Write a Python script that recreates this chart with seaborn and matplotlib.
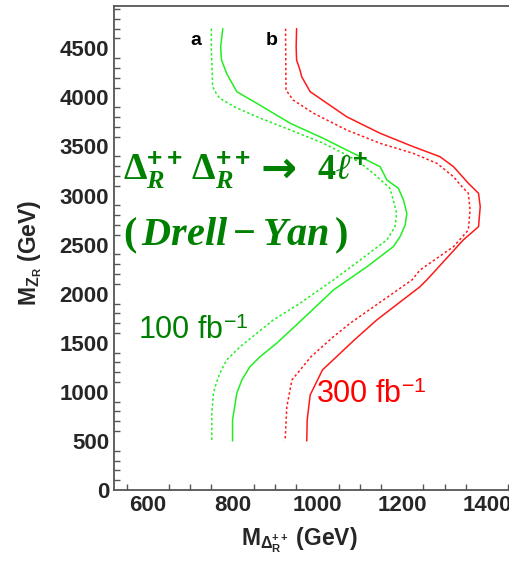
import matplotlib
matplotlib.use("Agg")
import matplotlib.pyplot as plt
import seaborn as sns
import pandas as pd
from matplotlib.ticker import MultipleLocator

# ---------------- data ----------------
# green, dotted (a, 100 fb^-1)
green_dot_x = [750, 750, 752, 753, 761, 770, 806, 857, 936, 1013, 1069, 1101, 1132, 1171,
               1179, 1187, 1183, 1164, 1132, 1101, 1038, 959, 896, 857, 818, 786, 770,
               759, 755, 751, 751]
green_dot_y = [4700, 4480, 4280, 4110, 4045, 3990, 3900, 3803, 3668, 3535, 3413, 3331, 3227, 3074,
               2955, 2819, 2683, 2547, 2445, 2343, 2140, 1902, 1732, 1596, 1460, 1324, 1189,
               1052, 985, 781, 500]
# green, solid
green_sol_x = [777, 772, 774, 786, 810, 857, 936, 1014, 1069, 1148, 1164, 1191, 1203, 1211,
               1207, 1195, 1179, 1117, 1038, 963, 904, 865, 841, 822, 810, 800, 800]
green_sol_y = [4700, 4516, 4381, 4245, 4058, 3940, 3736, 3583, 3464, 3294, 3158, 3074, 2955, 2819,
               2700, 2581, 2479, 2275, 2038, 1732, 1495, 1358, 1256, 1121, 985, 713, 500]
# red, dotted (b, 300 fb^-1)
red_dot_x = [925, 926, 943, 991, 1069, 1148, 1226, 1282, 1321, 1341, 1356, 1360, 1356, 1321,
             1242, 1223, 1077, 1038, 985, 940, 928, 924]
red_dot_y = [4700, 4075, 3973, 3838, 3668, 3532, 3430, 3328, 3192, 3090, 3023, 2853, 2649, 2479,
             2241, 2140, 1698, 1562, 1358, 1121, 849, 500]
# red, solid
red_sol_x = [951, 950, 951, 959, 963, 983, 1069, 1148, 1226, 1289, 1321, 1356, 1380, 1384,
             1380, 1344, 1258, 1242, 1140, 1087, 1012, 983, 976, 975]
red_sol_y = [4700, 4516, 4381, 4279, 4211, 4058, 3803, 3634, 3498, 3396, 3294, 3125, 3023, 2886,
             2683, 2547, 2140, 2071, 1732, 1528, 1223, 968, 713, 500]

x_ticks = [600, 800, 1000, 1200, 1400]
y_ticks = [0, 500, 1000, 1500, 2000, 2500, 3000, 3500, 4000, 4500]

# ---------------- style ----------------
sns.set_theme(style="white")
plt.rcParams["font.family"] = ["Liberation Sans", "DejaVu Sans"]
plt.rcParams["mathtext.fontset"] = "custom"
plt.rcParams["mathtext.rm"] = "Liberation Serif:bold"
plt.rcParams["mathtext.bf"] = "Liberation Serif:bold"
plt.rcParams["mathtext.it"] = "Liberation Serif:italic:bold"
plt.rcParams["mathtext.sf"] = "Liberation Sans:bold"
plt.rcParams["mathtext.tt"] = "Liberation Sans"
plt.rcParams["mathtext.fallback"] = "stix"

GREEN_LINE = "#22ee22"
RED_LINE = "#ff1a1a"
GREEN_TEXT = "#008000"
RED_TEXT = "#ff0000"
SPINE = "#555555"

fig = plt.figure(figsize=(5.10, 5.62), dpi=100)
ax = fig.add_axes([114 / 510, 1 - 490 / 562, (515 - 114) / 510, (490 - 6) / 562])

curves = [
    (green_dot_x, green_dot_y, GREEN_LINE, (0, (1.6, 1.6))),
    (green_sol_x, green_sol_y, GREEN_LINE, "-"),
    (red_dot_x, red_dot_y, RED_LINE, (0, (1.6, 1.6))),
    (red_sol_x, red_sol_y, RED_LINE, "-"),
]
for xs, ys, col, ls in curves:
    df = pd.DataFrame({"x": xs, "y": ys})
    sns.lineplot(data=df, x="x", y="y", sort=False, estimator=None, ax=ax,
                 color=col, linewidth=1.1, linestyle=ls)

ax.set_xlim(520.5, 1466)
ax.set_ylim(0, 4931)
ax.set_xticks(x_ticks)
ax.set_yticks(y_ticks)
ax.xaxis.set_minor_locator(MultipleLocator(50))
ax.yaxis.set_minor_locator(MultipleLocator(100))
ax.tick_params(which="major", direction="in", length=9.4, width=1.0, color=SPINE,
               labelsize=16, pad=3.5, top=False, right=False)
ax.tick_params(which="minor", direction="in", length=4.5, width=1.0, color=SPINE,
               top=False, right=False, bottom=True, left=True)
for lab in ax.get_xticklabels() + ax.get_yticklabels():
    lab.set_fontweight("bold")
for s in ax.spines.values():
    s.set_color(SPINE)
    s.set_linewidth(1.3)
ax.grid(False)

ax.set_xlabel(r"$\mathsf{M}_{\mathsf{\Delta}_{\mathsf{R}}^{\mathsf{++}}}$ (GeV)",
              fontsize=16.5, fontweight="bold")
ax.set_ylabel(r"$\mathsf{M}_{\mathsf{Z}_{\mathsf{R}}}$ (GeV)",
              fontsize=16.5, fontweight="bold")
ax.xaxis.label.set_va("center")
ax.yaxis.label.set_va("center")
ax.xaxis.set_label_coords(0.461, -0.105)
ax.yaxis.set_label_coords(-0.209, 0.49)

# annotations
ax.text(701, 4534, "a", fontsize=14, fontweight="bold", color="black",
        ha="left", va="baseline")
ax.text(879, 4534, "b", fontsize=14, fontweight="bold", color="black",
        ha="left", va="baseline")
ax.text(541, 3158, r"$\Delta_{R}^{\mathsf{++}}\,\Delta_{R}^{\mathsf{++}}$",
        fontsize=27, color=GREEN_TEXT, ha="left", va="baseline")
ax.text(866, 3138, "\u2192", fontsize=31, fontweight="bold",
        family=["DejaVu Sans"], color=GREEN_TEXT, ha="left", va="baseline")
ax.text(999, 3158, r"$4\ell^{\mathsf{+}}$",
        fontsize=26, color=GREEN_TEXT, ha="left", va="baseline")
ax.text(541, 2496, r"$(\,Drell - Yan\,)$",
        fontsize=29, color=GREEN_TEXT, ha="left", va="baseline")
ax.text(578, 1535, r"100 fb$^{\mathtt{-1}}$", fontsize=22, color=GREEN_TEXT,
        ha="left", va="baseline")
ax.text(997, 883, r"300 fb$^{\mathtt{-1}}$", fontsize=22, color=RED_TEXT,
        ha="left", va="baseline")

fig.savefig("out.png", dpi=100)
